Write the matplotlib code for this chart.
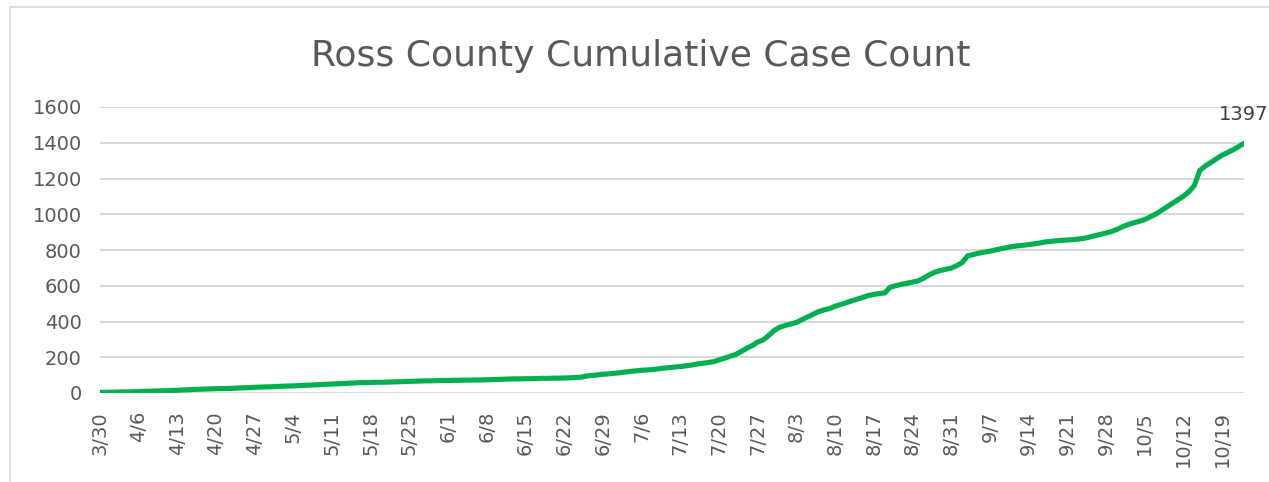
import pandas as pd
import matplotlib.pyplot as plt
from matplotlib.patches import Rectangle

# === 数据：每日累计病例（3/30 起）===
start_date = "2020-03-30"
cases = [
    3, 4, 4, 5, 6, 6, 7,
    8, 9, 10, 11, 12, 13, 14,
    15, 17, 18, 20, 21, 22, 23,
    24, 25, 25, 26, 28, 29, 30,
    32, 33, 34, 35, 36, 38, 39,
    40, 41, 43, 44, 46, 47, 49,
    50, 52, 53, 55, 56, 58, 58,
    59, 60, 60, 61, 62, 63, 64,
    65, 66, 67, 68, 68, 69, 70,
    70, 71, 71, 72, 72, 73, 73,
    74, 75, 76, 77, 78, 79, 79,
    80, 80, 81, 82, 82, 83, 83,
    84, 85, 87, 88, 95, 98, 101,
    105, 107, 110, 113, 117, 121, 124,
    127, 129, 131, 135, 139, 142, 145,
    148, 152, 156, 162, 166, 170, 175,
    185, 195, 205, 215, 232, 250, 265,
    285, 297, 322, 350, 368, 378, 386,
    395, 410, 425, 440, 455, 465, 472,
    485, 495, 505, 515, 525, 535, 545,
    552, 556, 560, 592, 600, 608, 614,
    620, 627, 642, 660, 675, 685, 692,
    698, 712, 730, 767, 775, 782, 788,
    793, 800, 807, 813, 819, 823, 826,
    830, 834, 839, 845, 848, 851, 854,
    856, 858, 861, 865, 872, 880, 887,
    895, 903, 915, 930, 942, 952, 960,
    970, 985, 1000, 1020, 1040, 1060, 1080,
    1100, 1125, 1160, 1245, 1270, 1290, 1310,
    1330, 1345, 1360, 1378, 1397,
]
y_ticks = [0, 200, 400, 600, 800, 1000, 1200, 1400, 1600]
title = "Ross County Cumulative Case Count"

dates = pd.date_range(start_date, periods=len(cases))
pos = list(range(len(cases)))
tick_pos = pos[::7]
tick_labels = [f"{d.month}/{d.day}" for d in dates[::7]]

TEXT = "#595959"
GRID = "#d9d9d9"
GREEN = "#00b050"

plt.rcParams['font.family'] = ['DejaVu Sans']

fig = plt.figure(figsize=(12.69, 4.82), dpi=100)
ax = fig.add_axes([100 / 1269, 89 / 482, 1144 / 1269, 286 / 482])

ax.plot(pos, cases, color=GREEN, linewidth=3.7, solid_capstyle='round',
        solid_joinstyle='round', zorder=3)

ax.set_xlim(0, len(cases) - 1)
ax.set_ylim(0, 1600)
ax.set_yticks(y_ticks)
ax.set_xticks(tick_pos)
ax.set_xticklabels(tick_labels, rotation=90)
ax.grid(axis='y', color=GRID, linewidth=1.4, zorder=0)
ax.grid(axis='x', visible=False)
for s in ax.spines.values():
    s.set_visible(False)
ax.tick_params(axis='both', length=0, labelsize=14, colors=TEXT)
ax.tick_params(axis='y', pad=13)
ax.tick_params(axis='x', pad=13)

# 末点数据标签
ax.annotate(str(cases[-1]), (pos[-1], cases[-1]), xytext=(0, 17),
            textcoords='offset points', ha='center', va='baseline',
            fontsize=14, color="#404040", annotation_clip=False)

fig.text(641 / 1269, 1 - 66 / 482, title, ha='center', va='baseline',
         fontsize=26, color=TEXT)

# 图表外框（只露出左边和上边）
fig.patches.append(Rectangle((10 / 1269, -0.1), 1.2, 1 - 7 / 482 + 0.1,
                             transform=fig.transFigure, fill=False,
                             edgecolor=GRID, linewidth=1.2))

plt.savefig("out.png", dpi=100)
plt.close()
